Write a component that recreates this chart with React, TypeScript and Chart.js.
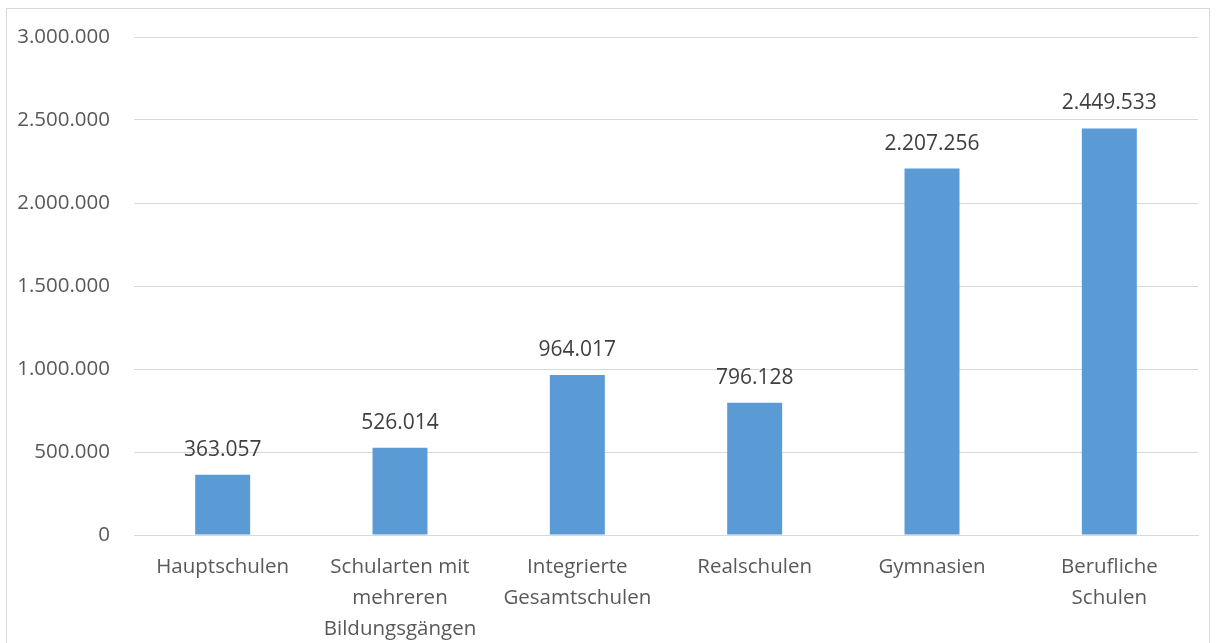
import React, { useEffect, useRef } from "react";
import { Chart, registerables } from "chart.js";

Chart.register(...registerables);

const categories: (string | string[])[] = [
  "Hauptschulen",
  ["Schularten mit", "mehreren", "Bildungsgängen"],
  ["Integrierte", "Gesamtschulen"],
  "Realschulen",
  "Gymnasien",
  ["Berufliche", "Schulen"],
];
const values: number[] = [363057, 526014, 964017, 796128, 2207256, 2449533];
const yMin = 0;
const yMax = 3000000;
const yStep = 500000;

const FONT = "'Open Sans', 'DejaVu Sans', sans-serif";

function fmt(n: number): string {
  const s = Math.round(n).toString();
  return s.replace(/\B(?=(\d{3})+(?!\d))/g, ".");
}

const dataLabels = {
  id: "dataLabels",
  afterDatasetsDraw(chart: any) {
    const ctx = chart.ctx;
    const meta = chart.getDatasetMeta(0);
    ctx.save();
    ctx.font = `21px ${FONT}`;
    ctx.fillStyle = "#404040";
    ctx.textAlign = "center";
    ctx.textBaseline = "alphabetic";
    meta.data.forEach((el: any, i: number) => {
      ctx.fillText(fmt(values[i]), el.x, el.y - 19);
    });
    ctx.restore();
  },
};

export default function App() {
  const ref = useRef<HTMLCanvasElement | null>(null);
  useEffect(() => {
    if (!ref.current) return;
    const chart = new Chart(ref.current, {
      type: "bar",
      data: {
        labels: categories,
        datasets: [
          {
            data: values,
            backgroundColor: "#5B9BD5",
            barPercentage: 0.31,
            categoryPercentage: 1,
          },
        ],
      },
      options: {
        animation: false,
        responsive: false,
        maintainAspectRatio: false,
        layout: { padding: { top: 28, right: 11, left: 0, bottom: 0 } },
        plugins: {
          legend: { display: false },
          tooltip: { enabled: false },
        },
        scales: {
          x: {
            grid: { display: false, drawTicks: false },
            border: { display: true, color: "#d9d9d9", width: 1 },
            ticks: {
              color: "#595959",
              font: { family: FONT, size: 20.5, lineHeight: 1.5 },
              padding: 17,
              maxRotation: 0,
              autoSkip: false,
            },
            afterFit: (s: any) => {
              s.height = 108;
              s.paddingTop = 0;
              s.paddingBottom = 0;
            },
          },
          y: {
            min: yMin,
            max: yMax,
            grid: { color: "#d9d9d9", drawTicks: false, lineWidth: 1 },
            border: { display: false },
            ticks: {
              stepSize: yStep,
              color: "#595959",
              font: { family: FONT, size: 20.5 },
              padding: 24,
              callback: (v: any) => fmt(Number(v)),
            },
            afterFit: (s: any) => {
              s.width = 127;
              s.paddingTop = 0;
              s.paddingBottom = 0;
            },
          },
        },
      },
      plugins: [dataLabels],
    });
    return () => chart.destroy();
  }, []);
  return (
    <div
      style={{
        position: "absolute",
        left: 6,
        top: 8,
        width: 1202,
        height: 660,
        border: "1px solid #d9d9d9",
        background: "#fff",
      }}
    >
      <canvas ref={ref} width={1202} height={634} style={{ display: "block" }} />
    </div>
  );
}
